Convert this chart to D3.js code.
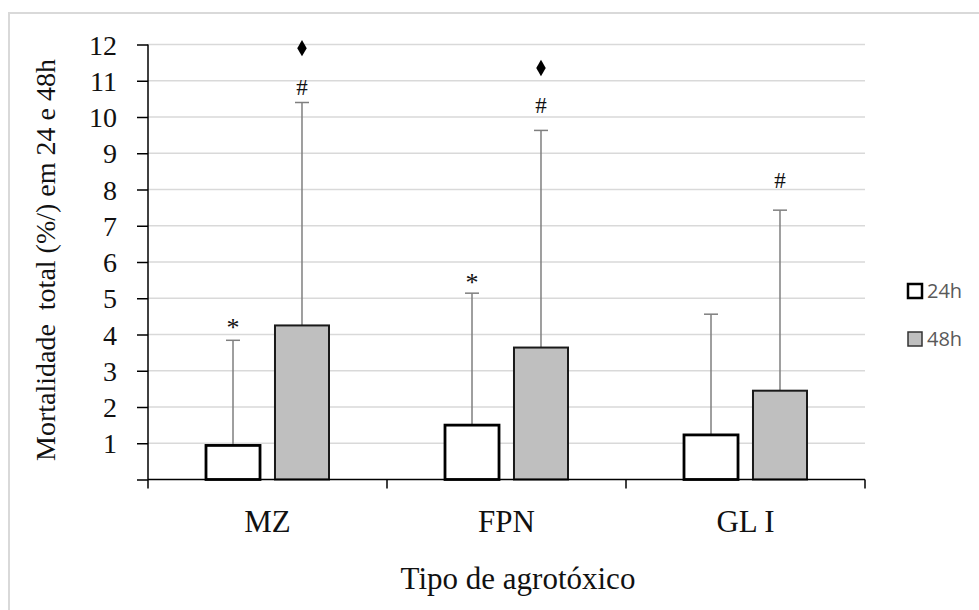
<!DOCTYPE html>
<html>
<head>
<meta charset="utf-8">
<script src="https://cdn.jsdelivr.net/npm/d3@7"></script>
<style>
  html, body { margin: 0; padding: 0; background: #fff; }
  svg { display: block; }
</style>
</head>
<body>
<svg id="chart" width="979" height="610"></svg>
<script>
// ---- data ----
const categories = ["MZ", "FPN", "GL I"];
const seriesNames = ["24h", "48h"];
const mean24 = [0.94, 1.50, 1.23];
const sd24   = [2.90, 3.64, 3.33];
const mean48 = [4.25, 3.64, 2.45];
const sd48   = [6.15, 5.99, 4.98];
const yTicks = [0, 1, 2, 3, 4, 5, 6, 7, 8, 9, 10, 11, 12];
// significance markers: [category, series, symbol, value at marker centre]
const markCat    = ["MZ", "MZ", "MZ", "FPN", "FPN", "FPN", "GL I"];
const markSeries = ["24h", "48h", "48h", "24h", "48h", "48h", "48h"];
const markSym    = ["*", "#", "\u2666", "*", "#", "\u2666", "#"];
const markVal    = [4.32, 10.83, 11.90, 5.56, 10.33, 11.35, 8.26];

const rows = [];
categories.forEach((c, i) => {
  rows.push({cat: c, s: "24h", mean: mean24[i], sd: sd24[i]});
  rows.push({cat: c, s: "48h", mean: mean48[i], sd: sd48[i]});
});

const svg = d3.select("#chart");

// frame
svg.append("path")
  .attr("d", "M9,610 V13 H979")
  .attr("fill", "none").attr("stroke", "#d9d9d9").attr("stroke-width", 2);

const x0 = 148, x1 = 865, yTop = 44.5, yBot = 479.5;
const x = d3.scaleBand().domain(categories).range([x0, x1]).padding(0);
const xs = d3.scaleBand().domain(seriesNames).range([58, 181]).paddingInner(0.217).paddingOuter(0);
const y = d3.scaleLinear().domain([0, 12]).range([yBot, yTop]);

// gridlines
svg.append("g").selectAll("line").data(yTicks.filter(d => d > 0)).join("line")
  .attr("x1", x0).attr("x2", x1)
  .attr("y1", d => y(d)).attr("y2", d => y(d))
  .attr("stroke", "#d9d9d9").attr("stroke-width", 1.5);

// error bars
const eg = svg.append("g").attr("stroke", "#7f7f7f").attr("stroke-width", 1.5);
rows.forEach(r => {
  const cx = x(r.cat) + xs(r.s) + xs.bandwidth() / 2;
  eg.append("line").attr("x1", cx).attr("x2", cx).attr("y1", y(r.mean)).attr("y2", y(r.mean + r.sd));
  eg.append("line").attr("x1", cx - 7).attr("x2", cx + 7).attr("y1", y(r.mean + r.sd)).attr("y2", y(r.mean + r.sd));
});

// bars
svg.append("g").selectAll("rect").data(rows).join("rect")
  .attr("x", d => x(d.cat) + xs(d.s))
  .attr("width", xs.bandwidth())
  .attr("y", d => y(d.mean))
  .attr("height", d => y(0) - y(d.mean))
  .attr("fill", d => d.s === "24h" ? "#ffffff" : "#bfbfbf")
  .attr("stroke", d => d.s === "24h" ? "#000" : "#1a1a1a")
  .attr("stroke-width", d => d.s === "24h" ? 2.8 : 2);

// markers
markSym.forEach((sym, i) => {
  const cx = x(markCat[i]) + xs(markSeries[i]) + xs.bandwidth() / 2;
  const cy = y(markVal[i]);
  if (sym === "\u2666") {
    svg.append("path")
      .attr("d", d3.symbol().type(d3.symbolDiamond).size(78)())
      .attr("transform", `translate(${cx},${cy})`)
      .attr("fill", "#000");
  } else {
    const fs = sym === "*" ? 26 : 23;
    const off = sym === "*" ? 0.52 : 0.33;
    svg.append("text")
      .attr("x", cx).attr("y", cy + off * fs)
      .attr("text-anchor", "middle")
      .attr("font-family", "Liberation Serif, serif")
      .attr("font-size", fs)
      .attr("fill", "#111")
      .text(sym);
  }
});

// y axis
const yAxis = svg.append("g").attr("transform", `translate(${x0},0)`)
  .call(d3.axisLeft(y).tickValues(yTicks).tickSize(11).tickPadding(20)
    .tickFormat(d => d === 0 ? "" : d));
yAxis.select(".domain").attr("stroke", "#000").attr("stroke-width", 1.5).attr("d", `M0,${yTop}V${yBot}`);
yAxis.selectAll(".tick line").attr("stroke", "#000").attr("stroke-width", 1.5);
yAxis.selectAll(".tick text")
  .attr("font-family", "Liberation Serif, serif")
  .attr("font-size", 28).attr("fill", "#111").attr("dy", "0.34em");

// x axis
const xAxis = svg.append("g").attr("transform", `translate(0,${yBot})`)
  .call(d3.axisBottom(x).tickSize(0).tickPadding(30));
xAxis.select(".domain").attr("stroke", "#000").attr("stroke-width", 1.5).attr("d", `M${x0},0H${x1}`);
xAxis.selectAll(".tick text")
  .attr("font-family", "Liberation Serif, serif")
  .attr("font-size", 31).attr("fill", "#111");
const bounds = [x0].concat(categories.map(c => x(c) + x.bandwidth()));
xAxis.append("g").selectAll("line").data(bounds).join("line")
  .attr("x1", d => d).attr("x2", d => d).attr("y1", 0).attr("y2", 9)
  .attr("stroke", "#000").attr("stroke-width", 1.5);

// axis titles
svg.append("text")
  .attr("x", 518).attr("y", 589)
  .attr("text-anchor", "middle")
  .attr("font-family", "Liberation Serif, serif")
  .attr("font-size", 31).attr("fill", "#111")
  .text("Tipo de agrotóxico");

svg.append("text")
  .attr("transform", "translate(55,260) rotate(-90)")
  .attr("text-anchor", "middle")
  .attr("font-family", "Liberation Serif, serif")
  .attr("font-size", 28).attr("fill", "#111")
  .text("Mortalidade  total (%/) em 24 e 48h")
  .attr("xml:space", "preserve")
  .style("white-space", "pre");

// legend
const leg = svg.append("g");
seriesNames.forEach((s, i) => {
  const ly = 291 + i * 48;
  leg.append("rect")
    .attr("x", 908).attr("y", ly - 7).attr("width", 14).attr("height", 14)
    .attr("fill", s === "24h" ? "#fff" : "#bfbfbf")
    .attr("stroke", s === "24h" ? "#000" : "#333")
    .attr("stroke-width", s === "24h" ? 2.5 : 1.5);
  leg.append("text")
    .attr("x", 927).attr("y", ly + 7)
    .attr("font-family", "Open Sans, sans-serif")
    .attr("font-size", 20).attr("fill", "#595959")
    .text(s);
});
</script>
</body>
</html>
